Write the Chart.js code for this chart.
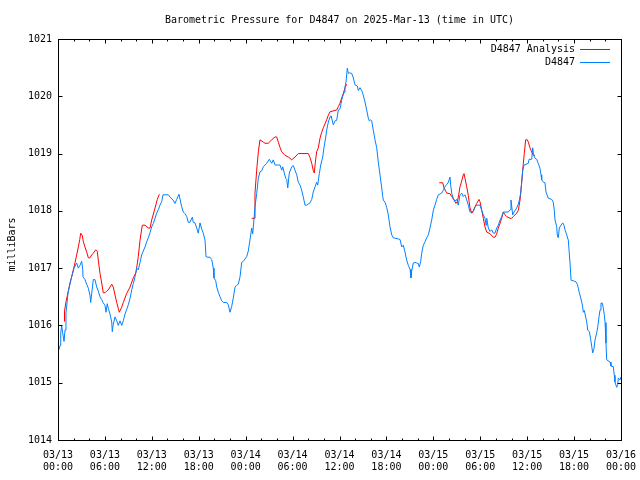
<!DOCTYPE html>
<html>
<head>
<meta charset="utf-8">
<script src="https://cdn.jsdelivr.net/npm/chart.js@4/dist/chart.umd.min.js"></script>
<style>
html, body { margin: 0; padding: 0; background: #ffffff; }
canvas { display: block; }
</style>
</head>
<body>
<canvas id="c" width="640" height="480"></canvas>
<script>
const chartTitle = 'Barometric Pressure for D4847 on 2025-Mar-13 (time in UTC)';
const yAxisTitle = 'milliBars';
const seriesNames = ['D4847 Analysis', 'D4847'];
const xTickLabels = ['03/13 00:00','03/13 06:00','03/13 12:00','03/13 18:00','03/14 00:00','03/14 06:00','03/14 12:00','03/14 18:00','03/15 00:00','03/15 06:00','03/15 12:00','03/15 18:00','03/16 00:00'];

// hours since 03/13 00:00 UTC
const blueHours = [0.00,0.13,0.26,0.35,0.47,0.60,0.77,0.90,1.02,1.19,1.28,1.75,2.05,2.39,2.60,2.81,3.03,3.16,3.20,3.45,3.67,3.88,4.09,4.18,4.31,4.51,4.73,4.95,5.15,5.37,5.59,5.76,6.01,6.14,6.30,6.43,6.65,6.87,6.94,7.07,7.29,7.51,7.71,7.93,8.15,8.35,8.57,8.79,8.99,9.21,9.43,9.63,9.85,10.06,10.27,10.49,10.70,10.91,11.13,11.34,11.55,11.77,11.98,12.19,12.41,12.62,12.83,13.04,13.26,13.43,13.68,14.11,14.32,14.71,14.96,15.18,15.47,15.82,16.02,16.24,16.46,16.66,16.88,17.18,17.30,17.52,17.74,17.94,18.16,18.38,18.58,18.80,18.93,19.18,19.44,19.66,19.86,19.95,20.17,20.30,20.50,20.72,20.94,21.14,21.57,21.78,22.00,22.21,22.42,22.64,22.85,23.06,23.28,23.49,23.70,24.13,24.34,24.55,24.77,24.90,24.98,25.19,25.41,25.62,25.83,26.05,26.26,26.69,27.02,27.33,27.53,27.75,28.17,28.39,28.61,28.74,28.94,29.12,29.25,29.38,29.58,29.89,30.09,30.31,30.53,30.73,30.95,31.17,31.37,31.59,31.81,32.23,32.45,32.65,32.87,33.08,33.21,33.42,33.60,33.85,34.02,34.24,34.36,34.57,34.79,34.91,35.00,35.21,35.43,35.64,35.85,36.06,36.28,36.41,36.58,36.70,36.83,37.00,37.13,37.25,37.56,37.77,37.98,38.28,38.40,38.62,38.84,39.04,39.26,39.48,39.68,39.81,39.99,40.12,40.32,40.54,40.76,40.96,41.18,41.40,41.53,41.60,41.82,42.04,42.24,42.46,42.68,42.88,43.52,43.74,43.96,44.16,44.38,44.59,44.80,45.02,45.14,45.23,45.44,45.66,45.87,46.08,46.21,46.39,46.51,46.72,46.94,47.15,47.36,47.57,47.79,48.00,48.21,48.43,48.64,49.07,49.28,49.49,49.71,49.92,50.13,50.22,50.35,50.55,50.77,50.99,51.19,51.41,51.63,51.83,52.05,52.27,52.47,52.69,52.91,53.11,53.33,53.55,53.97,54.19,54.39,54.61,54.74,54.83,55.03,55.25,55.47,55.67,55.89,56.10,56.31,56.53,56.74,56.95,57.17,57.59,57.81,57.93,58.15,58.32,58.66,58.87,59.00,59.17,59.30,59.43,59.60,60.15,60.24,60.58,60.71,60.81,61.00,61.22,61.42,61.64,61.77,61.86,62.07,62.28,62.41,62.70,63.14,63.34,63.47,63.56,63.78,63.85,63.98,64.11,64.33,64.55,64.71,64.84,65.06,65.26,65.35,65.48,65.61,65.90,66.25,66.41,66.54,66.67,66.85,66.98,67.10,67.18,67.31,67.40,67.62,67.74,67.95,68.13,68.25,68.38,68.55,68.68,68.89,69.02,69.19,69.32,69.44,69.61,69.74,69.87,69.96,70.08,70.17,70.60,70.72,71.02,71.14,71.23,71.45,71.58,71.66,71.87,72.00];
const bluePressure = [1015.55,1015.58,1015.65,1015.87,1016.00,1015.87,1015.72,1015.92,1016.22,1016.44,1016.57,1016.85,1017.00,1017.09,1017.00,1017.05,1017.12,1016.98,1016.85,1016.80,1016.72,1016.65,1016.53,1016.40,1016.55,1016.80,1016.80,1016.67,1016.60,1016.50,1016.45,1016.40,1016.35,1016.23,1016.38,1016.30,1016.20,1016.06,1015.89,1016.02,1016.15,1016.08,1016.00,1016.08,1016.00,1016.08,1016.20,1016.28,1016.36,1016.47,1016.62,1016.73,1016.85,1017.00,1016.97,1017.10,1017.23,1017.30,1017.37,1017.46,1017.53,1017.62,1017.72,1017.78,1017.87,1017.96,1018.02,1018.10,1018.16,1018.28,1018.28,1018.28,1018.24,1018.19,1018.13,1018.20,1018.29,1018.07,1017.98,1017.95,1017.90,1017.80,1017.80,1017.89,1017.80,1017.79,1017.70,1017.61,1017.79,1017.68,1017.61,1017.49,1017.20,1017.19,1017.19,1017.15,1017.00,1016.83,1016.78,1016.67,1016.58,1016.50,1016.43,1016.40,1016.40,1016.36,1016.23,1016.33,1016.48,1016.67,1016.70,1016.72,1016.85,1017.10,1017.12,1017.20,1017.30,1017.49,1017.70,1017.60,1017.72,1018.07,1018.30,1018.57,1018.68,1018.70,1018.77,1018.83,1018.90,1018.83,1018.89,1018.80,1018.80,1018.80,1018.71,1018.77,1018.66,1018.57,1018.55,1018.40,1018.66,1018.77,1018.79,1018.71,1018.63,1018.50,1018.45,1018.36,1018.24,1018.10,1018.10,1018.14,1018.20,1018.33,1018.42,1018.50,1018.45,1018.65,1018.80,1018.94,1019.11,1019.29,1019.41,1019.55,1019.64,1019.66,1019.62,1019.50,1019.57,1019.58,1019.76,1019.78,1019.93,1020.00,1020.07,1020.16,1020.25,1020.49,1020.40,1020.41,1020.40,1020.32,1020.20,1020.18,1020.10,1020.15,1020.10,1020.02,1019.90,1019.76,1019.62,1019.57,1019.59,1019.57,1019.41,1019.24,1019.10,1018.85,1018.63,1018.40,1018.25,1018.19,1018.15,1018.06,1017.93,1017.72,1017.58,1017.53,1017.51,1017.50,1017.37,1017.40,1017.28,1017.14,1017.05,1016.98,1016.83,1016.95,1017.09,1017.10,1017.09,1017.08,1017.02,1017.12,1017.26,1017.40,1017.46,1017.53,1017.58,1017.70,1017.84,1018.01,1018.10,1018.20,1018.28,1018.31,1018.36,1018.42,1018.46,1018.50,1018.59,1018.45,1018.31,1018.22,1018.17,1018.20,1018.10,1018.28,1018.31,1018.25,1018.28,1018.19,1018.10,1017.98,1017.98,1018.00,1018.07,1018.10,1018.10,1018.01,1017.93,1017.87,1017.75,1017.87,1017.70,1017.64,1017.67,1017.61,1017.61,1017.70,1017.75,1017.84,1017.90,1017.98,1017.98,1017.98,1018.02,1018.19,1017.93,1017.98,1018.05,1018.12,1018.19,1018.31,1018.50,1018.71,1018.80,1018.83,1018.90,1018.90,1019.10,1018.98,1018.92,1018.90,1018.83,1018.74,1018.63,1018.54,1018.50,1018.49,1018.33,1018.22,1018.20,1018.15,1018.01,1017.84,1017.72,1017.58,1017.53,1017.70,1017.75,1017.79,1017.75,1017.67,1017.58,1017.49,1017.32,1017.09,1016.79,1016.78,1016.76,1016.72,1016.65,1016.57,1016.48,1016.41,1016.32,1016.23,1016.26,1016.20,1016.06,1015.92,1015.89,1015.75,1015.64,1015.52,1015.60,1015.75,1015.87,1015.97,1016.15,1016.27,1016.39,1016.39,1016.30,1016.18,1016.05,1015.69,1015.40,1015.36,1015.29,1015.28,1015.13,1015.01,1014.92,1014.97,1015.08,1015.05,1015.10];

// analysis series; null marks a gap in the record
const redHours = [0.77,0.83,1.02,1.32,1.53,1.75,1.96,2.17,2.39,2.60,2.78,2.90,3.11,3.24,3.45,3.67,3.88,4.09,4.31,4.51,4.82,5.03,5.15,5.37,5.59,5.79,6.01,6.23,6.43,6.65,6.87,7.07,7.29,7.51,7.71,7.84,8.15,8.35,8.79,9.21,9.63,9.98,10.27,10.49,10.78,11.13,11.55,11.77,11.98,12.41,12.70,12.96,18.00,24.77,25.07,25.19,25.41,25.62,25.83,26.26,26.47,26.89,27.33,27.75,27.97,28.17,28.39,28.61,29.03,29.45,29.89,30.31,30.73,32.01,32.23,32.45,32.65,32.78,32.91,33.08,33.29,33.51,33.72,33.93,34.15,34.36,34.57,34.79,35.64,35.85,36.06,36.28,36.49,36.70,36.92,42.00,48.76,49.20,49.37,49.71,50.13,50.35,50.64,50.90,51.07,51.24,51.41,51.63,51.83,51.92,52.05,52.27,52.47,52.69,52.91,53.11,53.33,53.55,53.84,53.97,54.19,54.39,54.61,54.83,55.25,55.67,55.89,56.10,56.31,56.53,56.74,56.95,57.17,57.38,57.81,58.02,58.23,58.66,58.87,59.09,59.30,59.51,59.63,59.81,60.02,60.15,60.36,60.58,60.78,61.00];
const redPressure = [1016.07,1016.25,1016.41,1016.60,1016.74,1016.85,1016.97,1017.09,1017.23,1017.37,1017.50,1017.61,1017.57,1017.46,1017.37,1017.28,1017.18,1017.18,1017.23,1017.26,1017.32,1017.29,1017.14,1016.91,1016.74,1016.57,1016.57,1016.60,1016.62,1016.67,1016.72,1016.67,1016.53,1016.40,1016.30,1016.23,1016.32,1016.40,1016.56,1016.67,1016.83,1016.93,1017.20,1017.49,1017.75,1017.75,1017.70,1017.70,1017.84,1018.05,1018.20,1018.29,null,1017.87,1017.87,1018.31,1018.71,1019.03,1019.24,1019.20,1019.18,1019.18,1019.24,1019.29,1019.29,1019.20,1019.11,1019.03,1018.97,1018.94,1018.89,1018.94,1019.00,1019.00,1018.93,1018.83,1018.70,1018.66,1018.85,1019.03,1019.10,1019.27,1019.37,1019.45,1019.52,1019.59,1019.67,1019.73,1019.76,1019.82,1019.88,1019.97,1020.05,1020.15,1020.21,null,1018.49,1018.49,1018.40,1018.31,1018.30,1018.25,1018.19,1018.13,1018.16,1018.28,1018.42,1018.52,1018.63,1018.65,1018.57,1018.42,1018.27,1018.05,1017.96,1017.99,1018.07,1018.13,1018.20,1018.16,1018.01,1017.87,1017.72,1017.63,1017.60,1017.54,1017.54,1017.60,1017.70,1017.78,1017.87,1017.98,1017.93,1017.90,1017.87,1017.87,1017.90,1017.96,1018.01,1018.19,1018.50,1018.83,1019.00,1019.24,1019.24,1019.20,1019.10,1019.03,1018.97,1018.97];

const seriesColors = ['#ff0000', '#0080ff'];
const FONT = 'DejaVu Sans Mono';

Chart.defaults.font.family = FONT;
Chart.defaults.font.size = 10;
Chart.defaults.color = '#000000';

const framePlugin = {
  id: 'frame',
  afterDraw(chart) {
    const ctx = chart.ctx;
    const { left, right, top, bottom } = chart.chartArea;
    const xs = chart.scales.x, ys = chart.scales.y;
    ctx.save();
    ctx.strokeStyle = '#000000';
    ctx.lineWidth = 1;
    ctx.strokeRect(left + 0.5, top + 0.5, right - left, bottom - top);
    ctx.beginPath();
    for (let h = xs.min; h <= xs.max; h += 2) {
      const px = Math.round(xs.getPixelForValue(h)) + 0.5;
      const len = (h % 6 === 0) ? 4 : 2;
      ctx.moveTo(px, bottom + 0.5); ctx.lineTo(px, bottom + 0.5 - len);
      ctx.moveTo(px, top + 0.5); ctx.lineTo(px, top + 0.5 + len);
    }
    for (let v = ys.min; v <= ys.max; v += 1) {
      const py = Math.round(ys.getPixelForValue(v)) + 0.5;
      ctx.moveTo(left + 0.5, py); ctx.lineTo(left + 0.5 + 4, py);
      ctx.moveTo(right + 0.5, py); ctx.lineTo(right + 0.5 - 4, py);
    }
    ctx.stroke();

    ctx.font = '10px "' + FONT + '"';

    // chart title, centred over the plot area
    ctx.fillStyle = '#000000';
    ctx.textAlign = 'center';
    ctx.textBaseline = 'middle';
    ctx.fillText(chartTitle, (left + right) / 2, 20);

    // legend (top right, inside plot)
    ctx.textAlign = 'right';
    chart.data.datasets.forEach((ds, i) => {
      const y = Math.round(top + 10 + i * 13) + 0.5;
      ctx.fillStyle = '#000000';
      ctx.fillText(ds.label, right - 46, y);
      ctx.strokeStyle = ds.borderColor;
      ctx.beginPath();
      ctx.moveTo(right - 41, y); ctx.lineTo(right - 11, y);
      ctx.stroke();
    });

    // y axis title
    ctx.fillStyle = '#000000';
    ctx.textAlign = 'center';
    ctx.translate(12, (top + bottom) / 2 + 5);
    ctx.rotate(-Math.PI / 2);
    ctx.fillText(yAxisTitle, 0, 0);
    ctx.restore();
  }
};

new Chart(document.getElementById('c'), {
  type: 'line',
  data: {
    datasets: [
      {
        label: seriesNames[0],
        data: redHours.map((h, i) => ({ x: h, y: redPressure[i] })),
        borderColor: seriesColors[0],
        borderWidth: 1,
        pointRadius: 0,
        tension: 0,
        spanGaps: false,
        order: 1
      },
      {
        label: seriesNames[1],
        data: blueHours.map((h, i) => ({ x: h, y: bluePressure[i] })),
        borderColor: seriesColors[1],
        borderWidth: 1,
        pointRadius: 0,
        tension: 0,
        order: 0
      }
    ]
  },
  options: {
    responsive: false,
    animation: false,
    devicePixelRatio: 1,
    layout: { padding: { left: 0, right: 19, top: 39, bottom: 0 } },
    plugins: {
      title: { display: false },
      legend: { display: false },
      tooltip: { enabled: false }
    },
    scales: {
      x: {
        type: 'linear',
        min: 0,
        max: 72,
        grid: { display: false, drawTicks: false },
        border: { display: false },
        ticks: {
          stepSize: 6,
          autoSkip: false,
          maxRotation: 0,
          minRotation: 0,
          padding: 9,
          color: '#000000',
          font: { family: FONT, size: 10 },
          callback: (value) => {
            const lbl = xTickLabels[Math.round(value / 6)];
            return lbl ? lbl.split(' ') : '';
          }
        },
        afterFit: (scale) => {
          scale.height = 40;
          scale.paddingLeft = 0;
          scale.paddingRight = 0;
        }
      },
      y: {
        type: 'linear',
        min: 1014,
        max: 1021,
        grid: { display: false, drawTicks: false },
        border: { display: false },
        ticks: {
          stepSize: 1,
          padding: 6,
          color: '#000000',
          font: { family: FONT, size: 10 },
          callback: (value) => String(value)
        },
        afterFit: (scale) => {
          scale.width = 58;
          scale.paddingTop = 0;
          scale.paddingBottom = 0;
        }
      }
    }
  },
  plugins: [framePlugin]
});
</script>
</body>
</html>
